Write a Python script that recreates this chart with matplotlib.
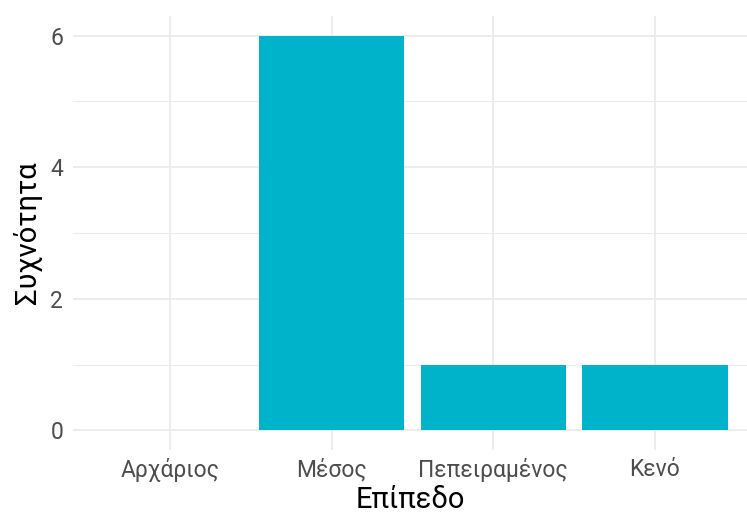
import matplotlib
matplotlib.use("Agg")
import matplotlib.pyplot as plt

levels = ["Αρχάριος", "Μέσος", "Πεπειραμένος", "Κενό"]
counts = [0, 6, 1, 1]

plt.rcParams['font.family'] = ['Roboto', 'DejaVu Sans']

fig = plt.figure(figsize=(7.47, 5.13), dpi=100)
ax = fig.add_axes([73 / 747, 1 - 450 / 513, 1 - 73 / 747, 434 / 513])

pos = list(range(1, len(levels) + 1))
ax.bar(pos, counts, width=0.9, color="#00B2CA", zorder=3)

ax.set_xlim(0.4, 4.57)
ax.set_ylim(-0.3, 6.3)
ax.set_xticks(pos)
ax.set_xticklabels(levels)
ax.set_yticks([0, 2, 4, 6])
ax.set_yticks([1, 3, 5], minor=True)

ax.grid(True, which="major", color="#EBEBEB", linewidth=1.3, zorder=0)
ax.grid(True, which="minor", axis="y", color="#EBEBEB", linewidth=0.7, zorder=0)
for s in ax.spines.values():
    s.set_visible(False)
ax.tick_params(which="both", length=0, labelsize=16.5, colors="#4D4D4D", pad=7)
ax.tick_params(axis="x", pad=6)

ax.set_xlabel("Επίπεδο", fontsize=21, color="black", labelpad=3)
ax.set_ylabel("Συχνότητα", fontsize=21, color="black", labelpad=6)

fig.savefig("out.png", dpi=100)
